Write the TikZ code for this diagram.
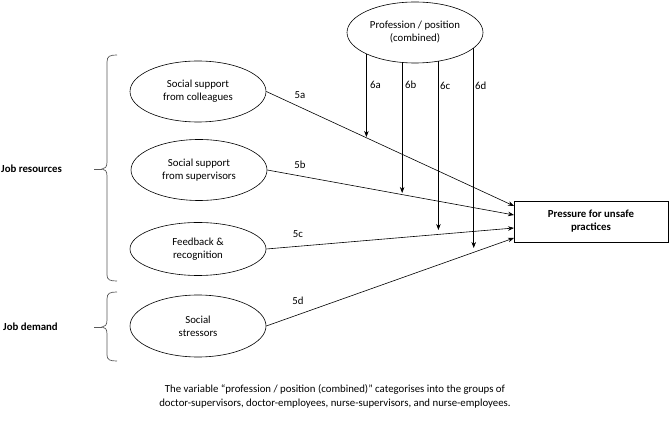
\documentclass[tikz,border=0pt]{standalone}
\usepackage{fontspec}
\setmainfont{Carlito}
\usetikzlibrary{shapes.geometric,arrows.meta}
\begin{document}
\begin{tikzpicture}[x=1pt,y=-1pt,
  every node/.style={font=\fontsize{10.8}{13}\selectfont},
  oval/.style={draw,ellipse,line width=0.6pt,inner sep=0pt,minimum width=136pt,minimum height=61pt,align=center},
  outbox/.style={draw,line width=0.6pt,inner sep=0pt,minimum width=154pt,minimum height=41pt,align=center,font=\fontsize{10.8}{13}\selectfont\bfseries},
  arr/.style={line width=0.6pt,-{Stealth[length=6pt,width=4.5pt]}},
  lbl/.style={inner sep=0pt},
  bracepath/.style={line width=0.7pt,draw=black!65},
  grp/.style={inner sep=0pt,font=\fontsize{10.8}{13}\selectfont\bfseries}]
\useasboundingbox (0,0) rectangle (669,427);
% nodes
\node[oval] (prof) at (415,32.5) {Profession / position\\(combined)};
\node[oval] (e1) at (198,91.5) {Social support\\from colleagues};
\node[oval] (e2) at (199,170) {Social support\\from supervisors};
\node[oval,minimum height=53pt] (e3) at (198,249) {Feedback \&\\recognition};
\node[oval,minimum height=62pt] (e4) at (198,326) {Social\\stressors};
\node[outbox] (box) at (591,221.5) {Pressure for unsafe\\practices};
% arrow targets
\coordinate (t5a) at (514,206);
\coordinate (t5b) at (514,215);
\coordinate (t5c) at (514,228);
\coordinate (t5d) at (514,238);
\coordinate (t6a) at (368,137);
\coordinate (t6b) at (403,193);
\coordinate (t6c) at (438,230);
\coordinate (t6d) at (473,248);
% main arrows
\draw[arr] (e1.east) -- (t5a);
\draw[arr] (e2.east) -- (t5b);
\draw[arr] (e3.east) -- (t5c);
\draw[arr] (e4.east) -- (t5d);
% moderator arrows
\draw[arr] (prof.204.4) -- (prof.204.4 |- t6a);
\draw[arr] (prof.247.5) -- (prof.247.5 |- t6b);
\draw[arr] (prof.309.6) -- (prof.309.6 |- t6c);
\draw[arr] (prof.345.1) -- (prof.345.1 |- t6d);
% labels
\node[lbl] (l5a) at (300,95) {5a};
\node[lbl] (l5b) at (300,165) {5b};
\node[lbl] (l5c) at (298,234) {5c};
\node[lbl] (l5d) at (298,301) {5d};
\node[lbl,anchor=west] (l6a) at (370,85) {6a};
\node[lbl,anchor=west] (l6b) at (405,85) {6b};
\node[lbl,anchor=west] (l6c) at (440,86) {6c};
\node[lbl,anchor=west] (l6d) at (475,86) {6d};
% group labels
\node[grp,anchor=west] (jr) at (1,169) {Job resources};
\node[grp,anchor=west] (jd) at (3,327) {Job demand};
% braces
\coordinate (b1tip) at (102,169);
\coordinate (b2tip) at (102,327);
\draw[bracepath] (117,55) .. controls (110,55) and (107,56) .. (107,62) -- (107,162)
   .. controls (107,167) and (105,169) .. (b1tip)
   .. controls (105,169) and (107,171) .. (107,176) -- (107,275)
   .. controls (107,280) and (110,281) .. (117,281);
\draw[bracepath] (b1tip) -- (94,169);
\draw[bracepath] (117,292) .. controls (110,292) and (107,293) .. (107,299) -- (107,320)
   .. controls (107,325) and (105,327) .. (b2tip)
   .. controls (105,327) and (107,329) .. (107,334) -- (107,355)
   .. controls (107,360) and (110,361) .. (117,361);
\draw[bracepath] (b2tip) -- (94,327);
% caption
\node[lbl,align=center,font=\fontsize{10.8}{14}\selectfont] (cap) at (335,396) {The variable “profession / position (combined)” categorises into the groups of\\doctor-supervisors, doctor-employees, nurse-supervisors, and nurse-employees.};
\end{tikzpicture}
\end{document}
